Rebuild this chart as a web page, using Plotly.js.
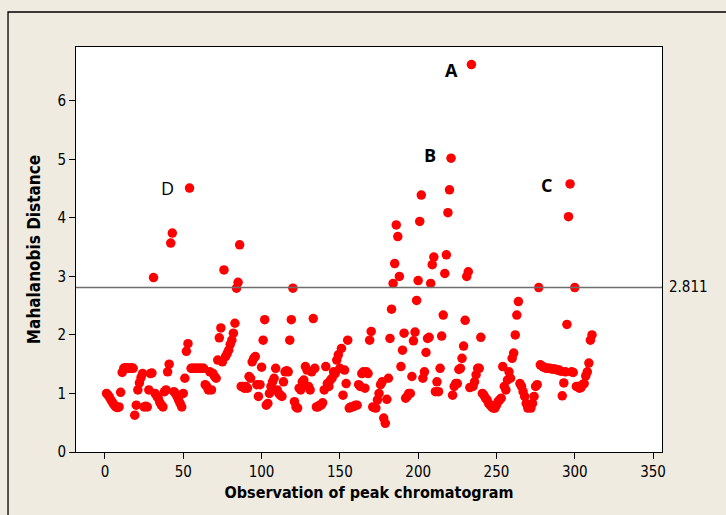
<!DOCTYPE html>
<html>
<head>
<meta charset="utf-8">
<script src="https://cdn.plot.ly/plotly-3.0.1.min.js"></script>
<style>html,body{margin:0;padding:0;background:#EFEBE1;}</style>
</head>
<body>
<div id="chart" style="width:726px;height:515px;"></div>
<script>
// Mahalanobis distance for each observation of peak chromatogram (obs 1..311)
const mahalanobis = [
  1.00, 0.97, 0.93, 0.88, 0.84, 0.80, 0.77, 0.76, 0.77, 1.02,
  1.36, 1.43, 1.44, 1.44, 1.43, 1.43, 1.44, 1.43, 0.63, 0.80,
  1.06, 1.18, 1.27, 1.34, 0.77, 0.78, 0.77, 1.06, 1.34, 1.35,
  2.98, 1.00, 0.96, 0.92, 0.85, 0.80, 0.77, 1.03, 1.06, 1.37,
  1.50, 3.57, 3.74, 1.03, 1.00, 0.95, 0.89, 0.83, 0.77, 1.00,
  1.26, 1.72, 1.85, 4.51, 1.43, 1.43, 1.43, 1.43, 1.43, 1.43,
  1.43, 1.43, 1.43, 1.15, 1.12, 1.06, 1.37, 1.06, 1.34, 1.29,
  1.26, 1.57, 1.95, 2.12, 1.54, 3.11, 1.63, 1.68, 1.74, 1.84,
  1.91, 2.03, 2.20, 2.80, 2.90, 3.54, 1.12, 1.12, 1.09, 1.12,
  1.09, 1.29, 1.26, 1.54, 1.60, 1.63, 1.15, 0.95, 1.15, 1.45,
  1.91, 2.26, 0.80, 0.83, 1.00, 1.12, 1.20, 1.26, 1.43, 1.06,
  1.00, 0.97, 0.95, 1.20, 1.37, 1.39, 1.37, 1.91, 2.26, 2.80,
  0.86, 0.77, 0.75, 1.09, 1.06, 1.20, 1.23, 1.46, 1.40, 1.12,
  1.06, 1.37, 2.28, 1.43, 0.77, 0.77, 0.80, 0.80, 0.84, 1.06,
  1.46, 1.17, 1.12, 1.23, 1.26, 1.37, 1.34, 1.57, 1.66, 1.43,
  1.77, 0.97, 1.40, 1.17, 1.91, 0.75, 0.77, 0.77, 0.78, 0.80,
  0.80, 1.15, 1.12, 1.34, 1.37, 1.09, 1.37, 1.34, 1.91, 2.06,
  0.77, 0.76, 0.75, 0.89, 1.00, 1.15, 1.20, 0.58, 0.49, 0.90,
  1.26, 1.94, 2.44, 2.88, 3.22, 3.88, 3.68, 3.00, 1.46, 1.74,
  2.03, 0.92, 0.95, 1.00, 1.00, 1.29, 1.90, 2.05, 2.59, 2.93,
  3.94, 4.39, 1.26, 1.37, 1.70, 1.94, 1.96, 2.88, 3.20, 3.33,
  1.03, 1.20, 1.03, 1.43, 1.98, 2.34, 3.05, 3.37, 4.09, 4.48,
  5.02, 0.97, 1.12, 1.17, 1.17, 1.41, 1.43, 1.60, 1.81, 2.25,
  3.00, 3.08, 1.10, 6.62, 1.12, 1.20, 1.32, 1.43, 1.43, 1.96,
  1.00, 0.97, 0.92, 0.89, 0.83, 0.80, 0.77, 0.75, 0.75, 0.80,
  0.86, 0.89, 0.92, 1.46, 1.12, 1.06, 1.23, 1.37, 1.26, 1.60,
  1.69, 2.00, 2.34, 2.57, 1.17, 1.12, 1.03, 0.95, 0.83, 0.75,
  0.77, 0.75, 0.83, 0.95, 1.12, 1.15, 2.81, 1.49, 1.47, 1.45,
  1.44, 1.43, 1.43, 1.43, 1.42, 1.42, 1.42, 1.41, 1.40, 1.40,
  1.38, 0.96, 1.18, 1.37, 2.18, 4.02, 4.58, 1.37, 1.36, 2.81,
  1.12, 1.12, 1.09, 1.10, 1.15, 1.17, 1.30, 1.37, 1.52, 1.91,
  2.00
];
const observation = mahalanobis.map((v, i) => i + 1);

const cutoff = 2.811;
const cutoffLabel = "2.811";

const xTicks = [0, 50, 100, 150, 200, 250, 300, 350];
const yTicks = [0, 1, 2, 3, 4, 5, 6];

const outlierLabels = ["A", "B", "C", "D"];
const outlierLabelX = [221.5, 207.5, 282.2, 40.2];
const outlierLabelY = [6.53, 5.08, 4.56, 4.51];
const outlierBold = [true, true, true, false];

const FONT = "'Liberation Sans Narrow', 'DejaVu Sans Condensed', 'Liberation Sans', Arial, sans-serif";

const trace = {
  type: "scatter",
  mode: "markers",
  x: observation,
  y: mahalanobis,
  marker: { color: "#FF0000", size: 9.5, line: { width: 0 } },
  hoverinfo: "x+y",
  cliponaxis: false
};

const annotations = outlierLabels.map((t, i) => ({
  x: outlierLabelX[i], y: outlierLabelY[i], xref: "x", yref: "y",
  text: outlierBold[i] ? "<b>" + t + "</b>" : t,
  showarrow: false,
  font: { family: "'Open Sans', 'DejaVu Sans', Arial, sans-serif", size: 18, color: "#000" }
}));
annotations.push({
  x: 1, xref: "paper", y: cutoff, yref: "y",
  xanchor: "left", xshift: 5, text: cutoffLabel, showarrow: false,
  font: { family: FONT, size: 15, color: "#000" }
});

const layout = {
  width: 726, height: 515,
  paper_bgcolor: "#EFEBE1",
  plot_bgcolor: "#FFFFFF",
  margin: { l: 76, r: 64, t: 47, b: 63, pad: 0 },
  showlegend: false,
  font: { family: FONT, color: "#000" },
  xaxis: {
    range: [-18.5, 355.7],
    tickvals: xTicks, ticktext: xTicks.map(String),
    ticks: "outside", ticklen: 6, tickwidth: 1, tickcolor: "#000",
    showline: true, linecolor: "#000", linewidth: 1, mirror: true,
    showgrid: false, zeroline: false,
    tickfont: { family: FONT, size: 15, color: "#000" },
    title: { text: "<b>Observation of peak chromatogram</b>", font: { family: FONT, size: 16, color: "#000" }, standoff: 6 }
  },
  yaxis: {
    range: [0, 6.92],
    tickvals: yTicks, ticktext: yTicks.map(String),
    ticks: "outside", ticklen: 6, tickwidth: 1, tickcolor: "#000",
    showline: true, linecolor: "#000", linewidth: 1, mirror: true,
    showgrid: false, zeroline: false,
    tickfont: { family: FONT, size: 15, color: "#000" },
    title: { text: "<b>Mahalanobis Distance</b>", font: { family: FONT, size: 17, color: "#000" }, standoff: 12 }
  },
  shapes: [
    { type: "line", xref: "paper", x0: 0, x1: 1, yref: "y", y0: cutoff, y1: cutoff,
      line: { color: "#6E6E6E", width: 1.5 } },
    { type: "rect", xref: "paper", yref: "paper", x0: -0.1160, x1: 1.3, y0: -0.3, y1: 1.0864,
      line: { color: "#000", width: 1.3 }, fillcolor: "rgba(0,0,0,0)", layer: "below" }
  ],
  annotations: annotations
};

Plotly.newPlot("chart", [trace], layout, { displayModeBar: false, staticPlot: true });
</script>
</body>
</html>
